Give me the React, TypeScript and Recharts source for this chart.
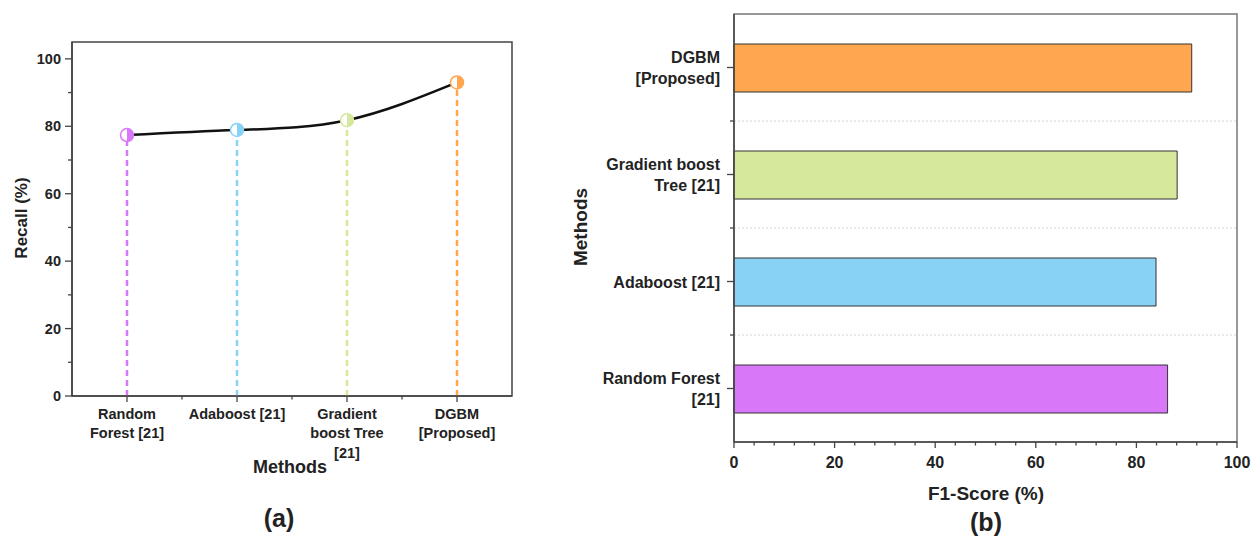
import {
  LineChart,
  Line,
  BarChart,
  Bar,
  Cell,
  XAxis,
  YAxis,
  ReferenceLine,
  ReferenceArea,
} from "recharts";

// methods in plotting order (left -> right on (a), bottom -> top on (b))
const methods = [
  "Random Forest [21]",
  "Adaboost [21]",
  "Gradient boost Tree [21]",
  "DGBM [Proposed]",
];
const methodColors = ["#D977F9", "#88D2F5", "#D5E89C", "#FFA64F"];

const recallValues = [77.4, 78.9, 81.8, 93.0];
const f1Values = [86.2, 83.9, 88.1, 91.0];

const lineTickLabels = [
  ["Random", "Forest [21]"],
  ["Adaboost [21]"],
  ["Gradient", "boost Tree", "[21]"],
  ["DGBM", "[Proposed]"],
];
const barTickLabels = [
  ["Random Forest", "[21]"],
  ["Adaboost [21]"],
  ["Gradient boost", "Tree [21]"],
  ["DGBM", "[Proposed]"],
];

const recallTicks = [0, 10, 20, 30, 40, 50, 60, 70, 80, 90, 100];
const f1Ticks = [
  0, 4, 8, 12, 16, 20, 24, 28, 32, 36, 40, 44, 48, 52, 56, 60, 64, 68, 72, 76,
  80, 84, 88, 92, 96, 100,
];
const methodTicks = [1, 1.5, 2, 2.5, 3, 3.5, 4];
const methodBounds = [1.5, 2.5, 3.5];

const FONT = "'Liberation Sans', Arial, sans-serif";
const TEXT = "#222";
const AXIS = "#444";

const recallData = methods.map((m, i) => ({
  pos: i + 1,
  method: m,
  recall: recallValues[i],
}));
const f1Data = methods.map((m, i) => ({ pos: i + 1, method: m, f1: f1Values[i] }));

// tick line 6 + margin 3 => axis sits 9px from the text anchor
const BottomTick = (props: any) => {
  const { x, y, payload, labels, lineGap, firstDy, fontSize, majorEvery } = props;
  const v = payload.value;
  const axisY = y - 9;
  const major = labels ? Number.isInteger(v) : v % majorEvery === 0;
  const lines: string[] = labels ? (major ? labels[v - 1] : []) : major ? [String(v)] : [];
  return (
    <g>
      <line x1={x} x2={x} y1={axisY} y2={axisY + (major ? 6 : 3.5)} stroke={AXIS} strokeWidth={1.3} />
      {lines.length > 0 && (
        <text
          x={x}
          y={axisY + firstDy}
          textAnchor="middle"
          dominantBaseline="central"
          fontFamily={FONT}
          fontWeight="bold"
          fontSize={fontSize}
          fill={TEXT}
        >
          {lines.map((l, k) => (
            <tspan key={k} x={x} dy={k === 0 ? 0 : lineGap}>
              {l}
            </tspan>
          ))}
        </text>
      )}
    </g>
  );
};

const LeftTick = (props: any) => {
  const { x, y, payload, labels, lineGap, fontSize, majorEvery, gap } = props;
  const v = payload.value;
  const axisX = x + 9;
  const major = labels ? Number.isInteger(v) : v % majorEvery === 0;
  const lines: string[] = labels ? (major ? labels[v - 1] : []) : major ? [String(v)] : [];
  const startDy = -((lines.length - 1) * lineGap) / 2;
  return (
    <g>
      <line x1={axisX} x2={axisX - (major ? 7 : 4)} y1={y} y2={y} stroke={AXIS} strokeWidth={1.3} />
      {lines.length > 0 && (
        <text
          x={axisX - gap}
          y={y}
          textAnchor="end"
          dominantBaseline="central"
          fontFamily={FONT}
          fontWeight="bold"
          fontSize={fontSize}
          fill={TEXT}
        >
          {lines.map((l, k) => (
            <tspan key={k} x={axisX - gap} dy={k === 0 ? startDy : lineGap}>
              {l}
            </tspan>
          ))}
        </text>
      )}
    </g>
  );
};

const HalfDot = (props: any) => {
  const { cx, cy, index } = props;
  const c = methodColors[index];
  const r = 6.5;
  return (
    <g key={`dot-${index}`}>
      <circle cx={cx} cy={cy} r={r} fill="#fff" stroke={c} strokeWidth={1.5} />
      <path d={`M${cx},${cy - r} A${r},${r} 0 0 1 ${cx},${cy + r} Z`} fill={c} />
    </g>
  );
};

const title = (
  text: string,
  left: number,
  top: number,
  size: number,
  rotate = false
) => (
  <div
    style={{
      position: "absolute",
      left,
      top,
      transform: `translate(-50%, -50%)${rotate ? " rotate(-90deg)" : ""}`,
      fontFamily: FONT,
      fontWeight: "bold",
      fontSize: size,
      color: TEXT,
      whiteSpace: "nowrap",
      lineHeight: 1,
    }}
  >
    {text}
  </div>
);

export default function App() {
  return (
    <div
      style={{
        position: "absolute",
        left: 0,
        top: 0,
        width: 1252,
        height: 540,
        background: "#fff",
        overflow: "hidden",
      }}
    >
      <div style={{ position: "absolute", left: 0, top: 0 }}>
        <LineChart
          width={520}
          height={540}
          data={recallData}
          margin={{ top: 42, right: 8, bottom: 44, left: 0 }}
        >
          <XAxis
            type="number"
            dataKey="pos"
            domain={[0.5, 4.5]}
            ticks={methodTicks}
            interval={0}
            height={100}
            tickSize={6}
            tickMargin={3}
            tickLine={false}
            axisLine={{ stroke: AXIS, strokeWidth: 1.5 }}
            tick={
              <BottomTick labels={lineTickLabels} lineGap={19.7} firstDy={17.5} fontSize={14.5} />
            }
          />
          <YAxis
            type="number"
            domain={[0, 105]}
            ticks={recallTicks}
            interval={0}
            width={72}
            tickSize={6}
            tickMargin={3}
            tickLine={false}
            axisLine={{ stroke: AXIS, strokeWidth: 1.5 }}
            tick={<LeftTick majorEvery={20} lineGap={0} fontSize={14.5} gap={11} />}
          />
          <ReferenceArea
            x1={0.5}
            x2={4.5}
            y1={0}
            y2={105}
            fill="none"
            stroke={AXIS}
            strokeWidth={1.5}
          />
          {recallData.map((d, i) => (
            <ReferenceLine
              key={d.method}
              segment={[
                { x: d.pos, y: 0 },
                { x: d.pos, y: d.recall },
              ]}
              stroke={methodColors[i]}
              strokeWidth={2.5}
              strokeDasharray="6 4"
            />
          ))}
          <Line
            type="natural"
            dataKey="recall"
            stroke="#111"
            strokeWidth={2.5}
            dot={<HalfDot />}
            activeDot={false}
            isAnimationActive={false}
          />
        </LineChart>
      </div>

      <div style={{ position: "absolute", left: 560, top: 0 }}>
        <BarChart
          width={692}
          height={540}
          data={f1Data}
          layout="vertical"
          margin={{ top: 14, right: 15, bottom: 58, left: 0 }}
        >
          <XAxis
            type="number"
            dataKey="f1"
            domain={[0, 100]}
            ticks={f1Ticks}
            interval={0}
            height={40}
            tickSize={6}
            tickMargin={3}
            tickLine={false}
            axisLine={{ stroke: AXIS, strokeWidth: 1.5 }}
            tick={<BottomTick majorEvery={20} lineGap={0} firstDy={19.5} fontSize={16} />}
          />
          <YAxis
            type="number"
            dataKey="pos"
            domain={[0.5, 4.5]}
            ticks={methodTicks}
            interval={0}
            reversed
            width={174}
            tickSize={6}
            tickMargin={3}
            tickLine={false}
            axisLine={{ stroke: AXIS, strokeWidth: 1.5 }}
            tick={<LeftTick labels={barTickLabels} lineGap={21} fontSize={16} gap={14} />}
          />
          {methodBounds.map((b) => (
            <ReferenceLine key={b} y={b} stroke="#d4d4d4" strokeWidth={1} strokeDasharray="2 2" />
          ))}
          <ReferenceArea
            x1={0}
            x2={100}
            y1={0.5}
            y2={4.5}
            fill="none"
            stroke="#777"
            strokeWidth={1.5}
          />
          <Bar dataKey="f1" barSize={48} stroke="#333" strokeWidth={1} isAnimationActive={false}>
            {f1Data.map((d, i) => (
              <Cell key={d.method} fill={methodColors[i]} />
            ))}
          </Bar>
        </BarChart>
      </div>

      {title("Recall (%)", 21, 218, 17, true)}
      {title("Methods", 290, 467, 18)}
      {title("(a)", 279, 518, 25)}
      {title("Methods", 580, 227, 19, true)}
      {title("F1-Score (%)", 986, 493, 19)}
      {title("(b)", 986, 522, 25)}
    </div>
  );
}
